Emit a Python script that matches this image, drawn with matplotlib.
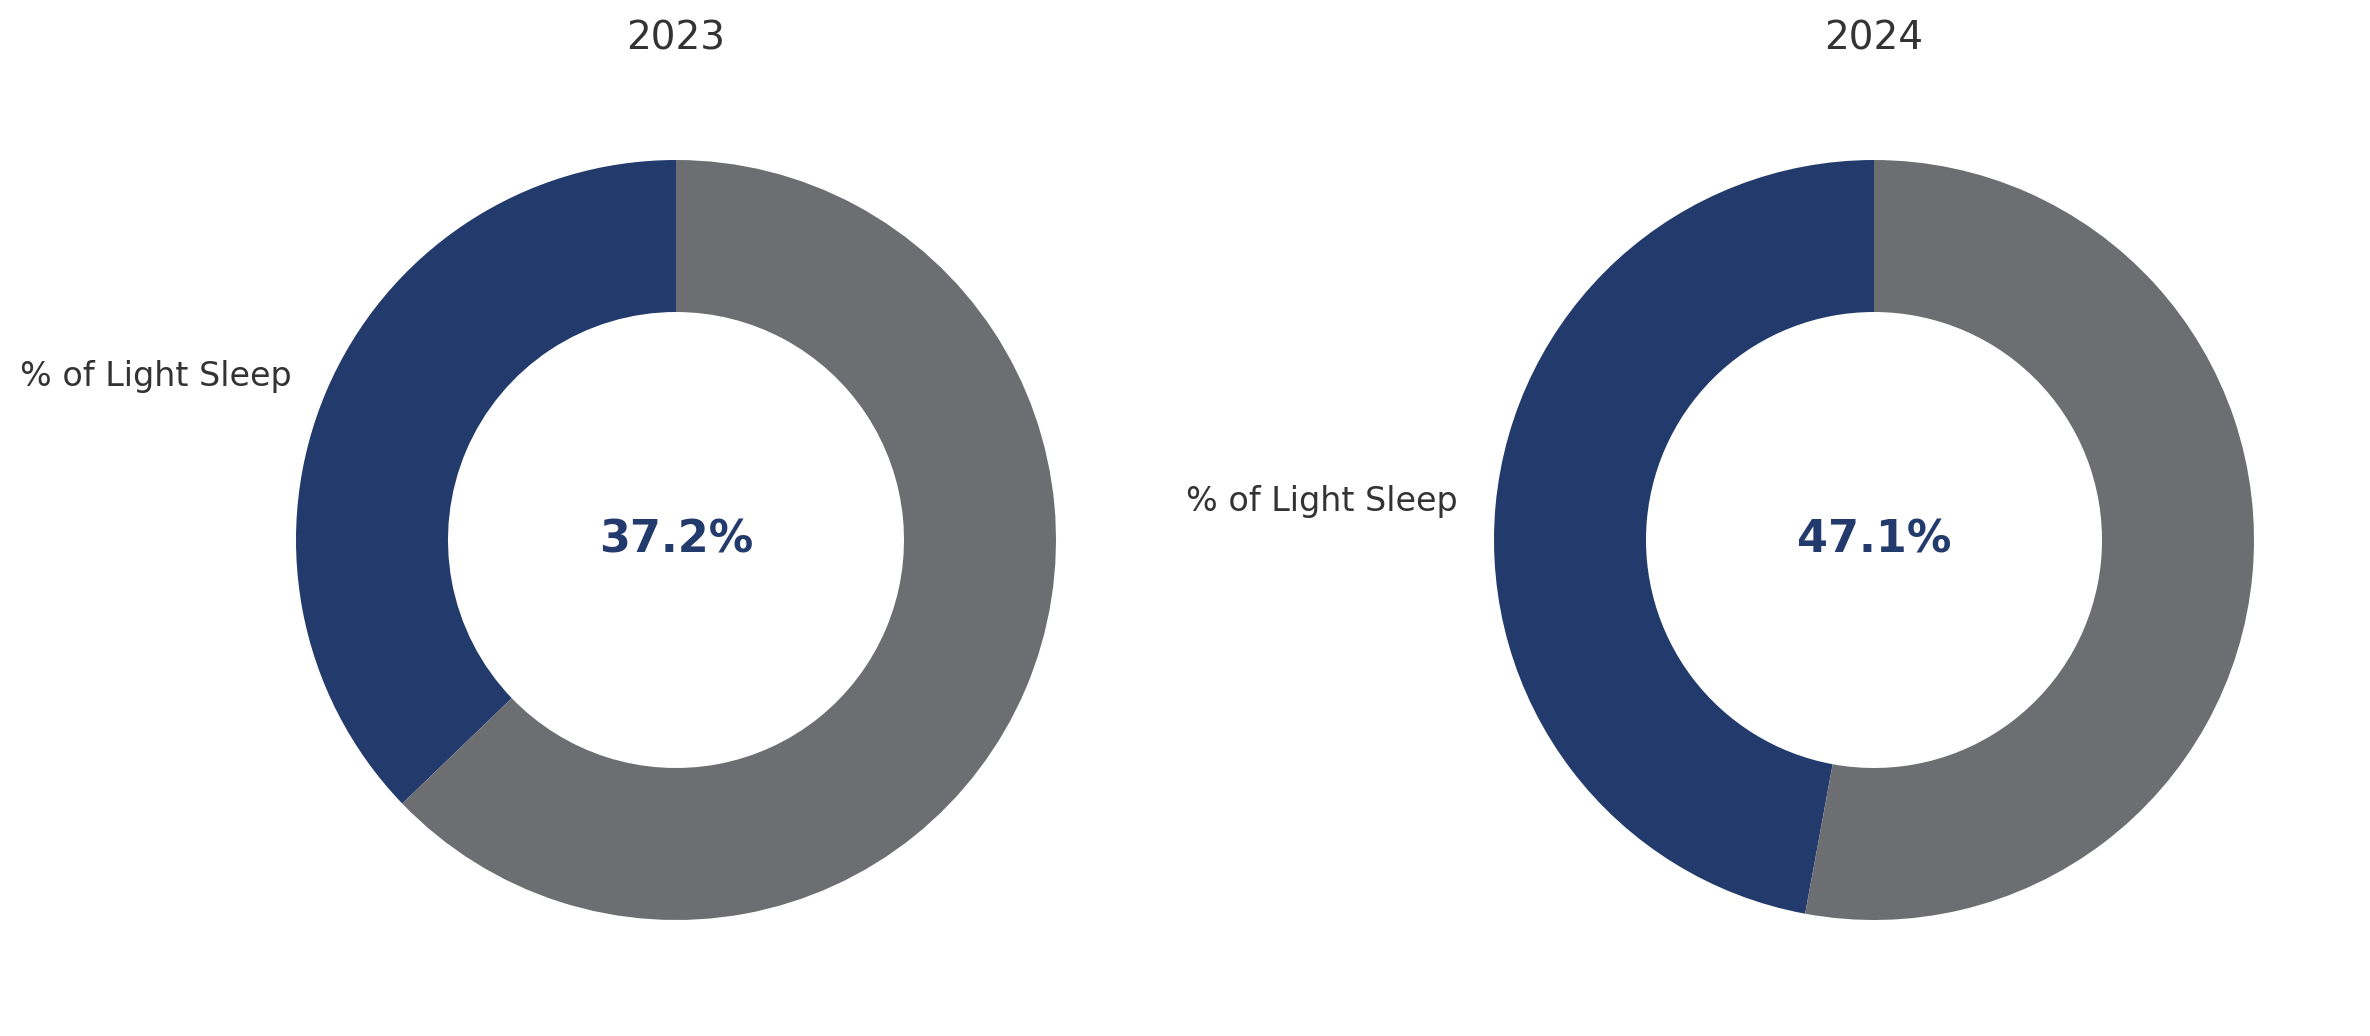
import matplotlib
matplotlib.use('Agg')
import matplotlib.pyplot as plt

# data
years = ['2023', '2024']
light_sleep_pct = [37.2, 47.1]
wedge_labels = ['% of Light Sleep', '']
colors = ['#233a6c', '#6d6e72']

text_color = '#333333'

fig = plt.figure(figsize=(11.85, 5.18), dpi=200)

# axes boxes in figure pixels (2370 x 1036), square so the donuts stay round
fw, fh = 2370, 1036
radius_px = 380
centers_px = [(676, 540), (1874, 540)]

for (cx, cy), year, pct in zip(centers_px, years, light_sleep_pct):
    side = 2 * 1.25 * radius_px
    ax = fig.add_axes([(cx - side / 2) / fw, (fh - cy - side / 2) / fh,
                       side / fw, side / fh])
    ax.pie([pct, 100 - pct], labels=wedge_labels, colors=colors,
           startangle=90, counterclock=True,
           wedgeprops=dict(width=0.4, linewidth=0),
           textprops=dict(color=text_color, fontsize=12))
    ax.set_xlim(-1.25, 1.25)
    ax.set_ylim(-1.25, 1.25)
    ax.set_aspect('equal')
    ax.text(0, 0, f'{pct:.1f}%', ha='center', va='center',
            fontsize=16, fontweight='bold', color=colors[0])
    ax.set_title(year, fontsize=14, color=text_color, pad=5.5)

fig.savefig('out.png', dpi=200, facecolor='white')
